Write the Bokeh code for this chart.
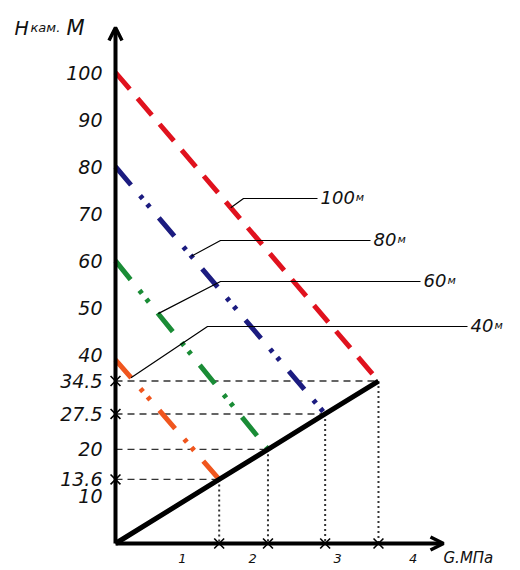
from bokeh.plotting import figure
from bokeh.models import Range1d, Arrow, OpenHead
from bokeh.core.properties import value
from bokeh.embed import file_html
from bokeh.resources import INLINE

# ---------------- data ----------------
curve_labels = ["40", "60", "80", "100"]          # depth of chamber, м
start_heads = [39, 60, 80, 100]                   # H at G = 0
end_heads = [13.6, 20, 27.5, 34.5]                # H on the black line
end_pressures = [1.536, 2.259, 3.106, 3.896]      # G, МПа on the black line
curve_colors = ["#f0561e", "#1a8c36", "#1c1c80", "#e0121e"]
curve_dashes = ["24 14 4 7 4 14", "24 14 4 7 4 14", "24 14 4 7 4 14", "22 12"]
y_tick_values = [100, 90, 80, 70, 60, 50, 40, 34.5, 27.5, 20, 13.6, 10]
y_tick_labels = ["100", "90", "80", "70", "60", "50", "40", "34.5", "27.5", "20", "13.6", "10"]
y_cross_values = [34.5, 27.5, 13.6]
x_tick_labels = ["1", "2", "3", "4"]
x_tick_values = [0.99, 2.03, 3.29, 4.41]
leader_heads = [35.2, 48.8, 61.0, 71.3]           # where each leader touches its curve

# ---------------- layout helpers (canvas pixels -> data) ----------------
W, H = 520, 570
PX, PY, OX, OY = 67.5, 4.71, 115.0, 543.0
def gx(px):
    return (px - OX) / PX
def gy(py):
    return (OY - py) / PY

FONT = value("DejaVu Sans")
TXT = "#111111"

p = figure(width=W, height=H, output_backend="svg", toolbar_location=None,
           x_range=Range1d(gx(0), gx(W)), y_range=Range1d(gy(H), gy(0)),
           x_axis_type=None, y_axis_type=None, min_border=0,
           outline_line_color=None, background_fill_color="white")
p.grid.visible = False

# guide lines
for g, h in zip(end_pressures, end_heads):
    p.line([0, g], [h, h], line_color="#333333", line_width=1.3, line_dash="7 5")
    p.line([g, g], [h, 0], line_color="#333333", line_width=2, line_dash="2 3")

# coloured curves
for h0, h1, g1, c, d in zip(start_heads, end_heads, end_pressures, curve_colors, curve_dashes):
    p.line([0, g1], [h0, h1], line_color=c, line_width=5, line_dash=d)

# black line
p.line([0] + end_pressures, [0] + end_heads, line_color="black", line_width=5)

# axes with arrows
p.add_layout(Arrow(end=OpenHead(size=13, line_width=3.5, line_color="black"),
                   x_start=0, y_start=0, x_end=0, y_end=gy(27),
                   line_width=4, line_color="black"))
p.add_layout(Arrow(end=OpenHead(size=13, line_width=3.5, line_color="black"),
                   x_start=0, y_start=0, x_end=gx(443), y_end=0,
                   line_width=4, line_color="black"))

# crosses
p.scatter([0] * len(y_cross_values), y_cross_values, marker="x", size=14,
          line_width=1.6, line_color="black")
p.scatter(end_pressures, [0] * len(end_pressures), marker="x", size=14,
          line_width=1.6, line_color="black")

# y tick labels
p.text([gx(102)] * len(y_tick_values), y_tick_values, text=y_tick_labels,
       text_font=FONT, text_font_style="italic", text_font_size="19px",
       text_align="right", text_baseline="middle", text_color=TXT)

# x tick labels
p.text(x_tick_values, [gy(558)] * len(x_tick_values), text=x_tick_labels,
       text_font=FONT, text_font_style="italic", text_font_size="13px",
       text_align="center", text_baseline="middle", text_color=TXT)
p.text([gx(443)], [gy(557)], text=["G.МПа"], text_font=FONT,
       text_font_style="italic", text_font_size="15px",
       text_align="left", text_baseline="middle", text_color=TXT)

# y axis title  H кам. М
p.text([gx(14)], [gy(27)], text=["H"], text_font=FONT, text_font_style="italic",
       text_font_size="19px", text_baseline="alphabetic", text_color=TXT)
p.text([gx(30)], [gy(27)], text=["кам."], text_font=FONT, text_font_style="italic",
       text_font_size="13px", text_baseline="alphabetic", text_color=TXT)
p.text([gx(66)], [gy(27)], text=["М"], text_font=FONT, text_font_style="italic",
       text_font_size="21px", text_baseline="alphabetic", text_color=TXT)

# leaders with labels
elbows = [(207, 326), (220, 281), (220, 240), (243, 198)]
ends_px = [467, 420, 370, 317]
lx, ly = [], []
for h0, h1, g1, ha, (ex, ey), endx in zip(start_heads, end_heads, end_pressures,
                                          leader_heads, elbows, ends_px):
    ax = (h0 - ha) / (h0 - h1) * g1
    lx.append([ax, gx(ex), gx(endx)])
    ly.append([ha, gy(ey), gy(ey)])
p.multi_line(lx, ly, line_color="black", line_width=1.2)

for lab, (ex, ey), endx in zip(curve_labels, elbows, ends_px):
    tx = endx + 3
    p.text([gx(tx)], [gy(ey - 1)], text=[lab], text_font=FONT, text_font_style="italic",
           text_font_size="18px", text_baseline="alphabetic", text_color=TXT)
    mx = tx + len(lab) * 0.636 * 18 + 1
    p.text([gx(mx)], [gy(ey - 1)], text=["м"], text_font=FONT, text_font_style="italic",
           text_font_size="11px", text_baseline="alphabetic", text_color=TXT)

open("out.html", "w").write(file_html(p, INLINE))
